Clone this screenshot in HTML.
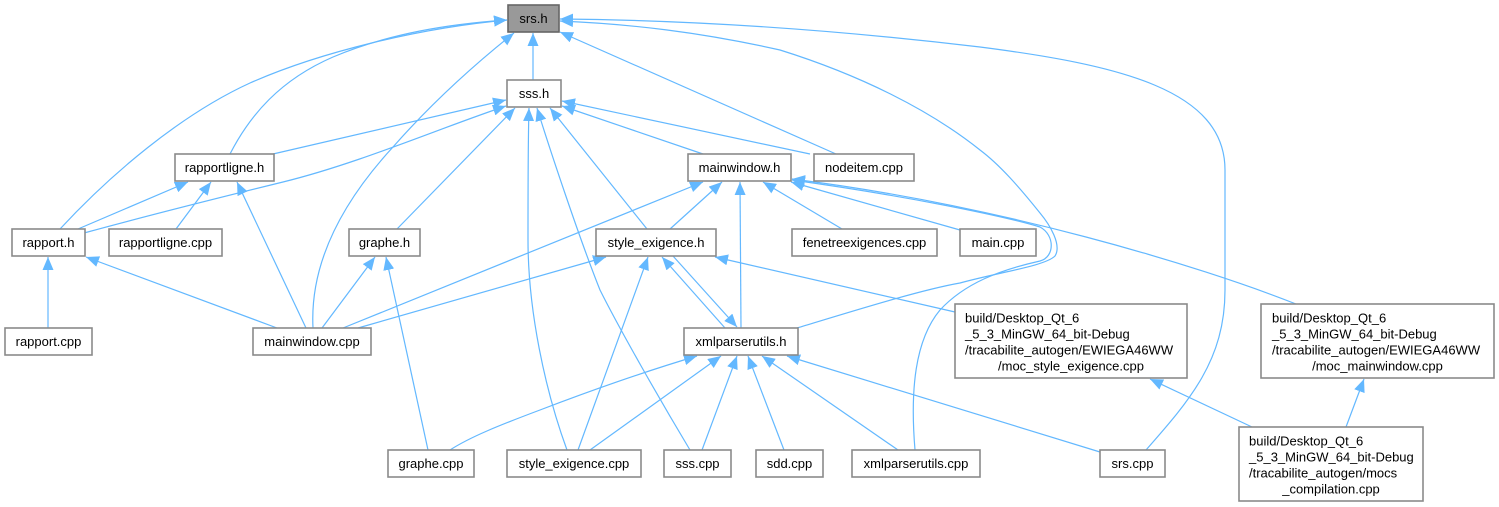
<!DOCTYPE html>
<html><head><meta charset="utf-8"><style>
html,body{margin:0;padding:0;background:#fff;}
svg{display:block;}
text{font-family:"Liberation Sans",Arial,sans-serif;font-size:13px;fill:#000;}
.n{fill:#fff;stroke:#8a8a8a;stroke-width:1.6;}
.e{fill:none;stroke:#63b8ff;stroke-width:1.2;marker-end:url(#a);}
</style></head><body>
<svg width="1499" height="507" viewBox="0 0 1499 507" xmlns="http://www.w3.org/2000/svg">
<defs>
<marker id="a" markerUnits="userSpaceOnUse" markerWidth="14" markerHeight="11" refX="13" refY="5.5" orient="auto" viewBox="0 0 14 11">
<path d="M0,0 L13,5.5 L0,11 z" fill="#63b8ff"/>
</marker>
</defs>

<!-- edges into srs.h -->
<path class="e" d="M60,229 C110,175 180,115 250,83 C320,52 420,28 507,20"/>
<path class="e" d="M230,154 C250,115 280,80 333,57 C390,33 450,24 507,20"/>
<path class="e" d="M313,328 C310,270 335,210 393,147 C430,105 470,68 514,33"/>
<path class="e" d="M533,80 L533,33"/>
<path class="e" d="M836,154 L560,32"/>
<path class="e" d="M1146,450 C1190,400 1225,360 1225,290 L1225,170 C1225,90 1120,65 980,47 C820,28 680,20 560,19"/>
<path class="e" d="M797,328 C850,312 920,290 960,283 C1000,272 1045,266 1055,256 C1062,245 1050,225 1040,213 C1020,188 1000,165 980,150 C930,110 860,75 780,50 C700,32 630,24 560,21"/>

<!-- edges into sss.h -->
<path class="e" d="M273,154 L506,100"/>
<path class="e" d="M84,233 C150,215 230,195 283,182 C360,163 440,128 506,106"/>
<path class="e" d="M397,229 L515,108"/>
<path class="e" d="M567,450 C545,390 528,310 528,240 C528,180 528,140 529,108"/>
<path class="e" d="M690,450 C660,400 620,330 600,290 C580,240 550,150 537,108"/>
<path class="e" d="M647,229 L550,108"/>
<path class="e" d="M703,154 L562,106"/>
<path class="e" d="M810,154 L562,101"/>

<!-- edges into rapportligne.h -->
<path class="e" d="M78,229 L188,182"/>
<path class="e" d="M176,229 L211,182"/>
<path class="e" d="M306,328 L237,182"/>

<!-- edges into rapport.h -->
<path class="e" d="M48,328 L48,257"/>
<path class="e" d="M277,328 L86,257"/>

<!-- edges into graphe.h -->
<path class="e" d="M322,328 L375,257"/>
<path class="e" d="M428,450 L386,257"/>

<!-- edges into mainwindow.h -->
<path class="e" d="M343,328 L703,182"/>
<path class="e" d="M670,229 L722,182"/>
<path class="e" d="M741,328 L740,182"/>
<path class="e" d="M842,229 L763,182"/>
<path class="e" d="M960,230 L791,182"/>
<path class="e" d="M1296,304 C1200,266 1000,205 792,179"/>
<path class="e" d="M915,450 C910,390 915,340 940,310 C965,283 1000,270 1040,261 C1055,257 1055,235 1040,227 C1000,215 900,195 792,180"/>

<!-- edges into style_exigence.h -->
<path class="e" d="M358,328 L606,257"/>
<path class="e" d="M578,450 L648,257"/>
<path class="e" d="M725,328 L662,257"/>
<path class="e" d="M955,312 L715,257"/>

<!-- edges into xmlparserutils.h -->
<path class="e" d="M673,256 L737,327"/>
<path class="e" d="M450,450 C470,437 500,425 540,410 C600,387 650,370 697,356"/>
<path class="e" d="M590,450 L721,356"/>
<path class="e" d="M702,450 L737,356"/>
<path class="e" d="M784,450 L748,356"/>
<path class="e" d="M898,450 L762,356"/>
<path class="e" d="M1100,452 L787,356"/>

<!-- moc edges -->
<path class="e" d="M1252,427 L1150,379"/>
<path class="e" d="M1346,427 L1364,379"/>

<!-- nodes -->
<rect x="508" y="5" width="51" height="27" fill="#999" stroke="#666" stroke-width="1.6"/>
<text x="533.5" y="23" text-anchor="middle">srs.h</text>

<rect class="n" x="507" y="80" width="54" height="27"/>
<text x="534" y="98" text-anchor="middle">sss.h</text>

<rect class="n" x="175" y="154" width="99" height="27"/>
<text x="224.5" y="172" text-anchor="middle">rapportligne.h</text>

<rect class="n" x="688" y="154" width="103" height="27"/>
<text x="739.5" y="172" text-anchor="middle">mainwindow.h</text>

<rect class="n" x="814" y="154" width="100" height="27"/>
<text x="864" y="172" text-anchor="middle">nodeitem.cpp</text>

<rect class="n" x="12" y="229" width="73" height="27"/>
<text x="48.5" y="247" text-anchor="middle">rapport.h</text>

<rect class="n" x="109" y="229" width="113" height="27"/>
<text x="165.5" y="247" text-anchor="middle">rapportligne.cpp</text>

<rect class="n" x="349" y="229" width="71" height="27"/>
<text x="384.5" y="247" text-anchor="middle">graphe.h</text>

<rect class="n" x="596" y="229" width="120" height="27"/>
<text x="656" y="247" text-anchor="middle">style_exigence.h</text>

<rect class="n" x="792" y="229" width="145" height="27"/>
<text x="864.5" y="247" text-anchor="middle">fenetreexigences.cpp</text>

<rect class="n" x="960" y="229" width="76" height="27"/>
<text x="998" y="247" text-anchor="middle">main.cpp</text>

<rect class="n" x="5" y="328" width="87" height="27"/>
<text x="48.5" y="346" text-anchor="middle">rapport.cpp</text>

<rect class="n" x="253" y="328" width="118" height="27"/>
<text x="312" y="346" text-anchor="middle">mainwindow.cpp</text>

<rect class="n" x="684" y="328" width="114" height="27"/>
<text x="741" y="346" text-anchor="middle">xmlparserutils.h</text>

<rect class="n" x="955" y="304" width="232" height="74"/>
<text x="965" y="322.5">build/Desktop_Qt_6</text>
<text x="965" y="338.5">_5_3_MinGW_64_bit-Debug</text>
<text x="965" y="354.5">/tracabilite_autogen/EWIEGA46WW</text>
<text x="1071" y="370.5" text-anchor="middle">/moc_style_exigence.cpp</text>

<rect class="n" x="1261" y="304" width="233" height="74"/>
<text x="1272" y="322.5">build/Desktop_Qt_6</text>
<text x="1272" y="338.5">_5_3_MinGW_64_bit-Debug</text>
<text x="1272" y="354.5">/tracabilite_autogen/EWIEGA46WW</text>
<text x="1377.5" y="370.5" text-anchor="middle">/moc_mainwindow.cpp</text>

<rect class="n" x="388" y="450" width="86" height="27"/>
<text x="431" y="468" text-anchor="middle">graphe.cpp</text>

<rect class="n" x="507" y="450" width="134" height="27"/>
<text x="574" y="468" text-anchor="middle">style_exigence.cpp</text>

<rect class="n" x="664" y="450" width="67" height="27"/>
<text x="697.5" y="468" text-anchor="middle">sss.cpp</text>

<rect class="n" x="756" y="450" width="67" height="27"/>
<text x="789.5" y="468" text-anchor="middle">sdd.cpp</text>

<rect class="n" x="852" y="450" width="128" height="27"/>
<text x="916" y="468" text-anchor="middle">xmlparserutils.cpp</text>

<rect class="n" x="1100" y="450" width="65" height="27"/>
<text x="1132.5" y="468" text-anchor="middle">srs.cpp</text>

<rect class="n" x="1239" y="427" width="184" height="74"/>
<text x="1249" y="445.5">build/Desktop_Qt_6</text>
<text x="1249" y="461.5">_5_3_MinGW_64_bit-Debug</text>
<text x="1249" y="477.5">/tracabilite_autogen/mocs</text>
<text x="1331" y="493.5" text-anchor="middle">_compilation.cpp</text>
</svg>
</body></html>
